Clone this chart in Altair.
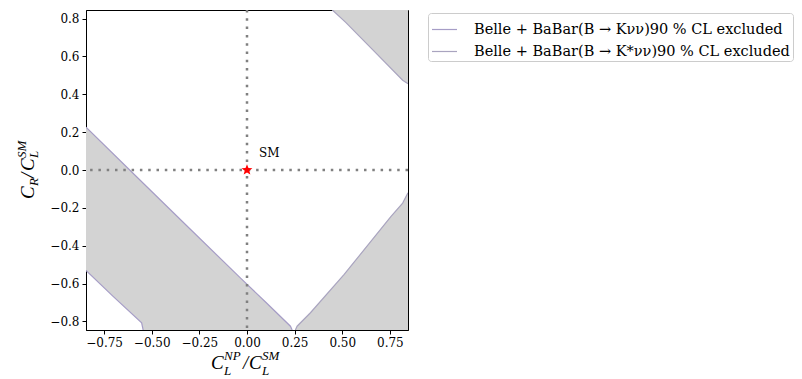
import math

import altair as alt
import pandas as pd

# Axis range shared by both couplings
LIM = 0.845

# Edges of the excluded regions (C_L^NP/C_L^SM, C_R/C_L^SM)
band_upper_x = [-0.845, -0.562, -0.30, -0.035, 0.10, 0.228, 0.237]
band_upper_y = [0.226, -0.053, -0.31, -0.57, -0.70, -0.825, -0.845]
band_lower_x = [-0.845, -0.70, -0.553, -0.545]
band_lower_y = [-0.53, -0.67, -0.807, -0.845]
top_right_x = [0.448, 0.518, 0.65, 0.817, 0.845]
top_right_y = [0.845, 0.78, 0.645, 0.474, 0.456]
bottom_right_x = [0.254, 0.263, 0.333, 0.509, 0.755, 0.817, 0.845]
bottom_right_y = [-0.845, -0.825, -0.754, -0.553, -0.246, -0.175, -0.12]

series_names = [
    "Belle + BaBar(B → Kνν)90 % CL excluded",
    "Belle + BaBar(B → K*νν)90 % CL excluded",
]
series_colors = ["#a69dc6", "#a9a4bf"]

x_ticks = [-0.75, -0.5, -0.25, 0.0, 0.25, 0.5, 0.75]
y_ticks = [-0.8, -0.6, -0.4, -0.2, 0.0, 0.2, 0.4, 0.6, 0.8]

sm_point = {"x": [0.0], "y": [0.0], "label": ["SM"]}


def rows(xs, ys, region, start=0):
    return [
        {"x": a, "y": b, "region": region, "i": start + k}
        for k, (a, b) in enumerate(zip(xs, ys))
    ]


# Closed outlines for the grey fills
polys = []
polys += rows(band_upper_x + band_lower_x[::-1], band_upper_y + band_lower_y[::-1], "band")
polys += rows(top_right_x + [LIM], top_right_y + [LIM], "top_right")
polys += rows(bottom_right_x + [LIM], bottom_right_y + [-LIM], "bottom_right")
poly_df = pd.DataFrame(polys)

# Boundary curves with their legend entry
edges = []
for xs, ys, name, s in [
    (band_upper_x, band_upper_y, "band_upper", 0),
    (band_lower_x, band_lower_y, "band_lower", 0),
    (top_right_x, top_right_y, "top_right", 1),
    (bottom_right_x, bottom_right_y, "bottom_right", 1),
]:
    for r in rows(xs, ys, name):
        r["series"] = series_names[s]
        edges.append(r)
edge_df = pd.DataFrame(edges)

xscale = alt.Scale(domain=[-LIM, LIM], nice=False, zero=False)
yscale = alt.Scale(domain=[-LIM, LIM], nice=False, zero=False)

tick_font = "DejaVu Serif"
axis_style = dict(title=None, grid=False, tickSize=4, labelFont=tick_font,
                  labelFontSize=12, labelPadding=3, labelOverlap=False,
                  labelFlush=False, labelColor="black", tickColor="black",
                  domainColor="black")
xaxis = alt.Axis(values=x_ticks, format=".2f", **axis_style)
yaxis = alt.Axis(values=y_ticks, format=".1f", **axis_style)


def X(field="x"):
    return alt.X(f"{field}:Q", scale=xscale, axis=xaxis)


def Y(field="y"):
    return alt.Y(f"{field}:Q", scale=yscale, axis=yaxis)


fills = alt.Chart(poly_df).mark_line(
    fill="#d3d3d3", strokeOpacity=0, clip=True
).encode(x=X(), y=Y(), detail="region:N", order="i:Q")

lines = alt.Chart(edge_df).mark_line(strokeWidth=1.2, clip=True).encode(
    x=X(),
    y=Y(),
    detail="region:N",
    order="i:Q",
    color=alt.Color(
        "series:N",
        scale=alt.Scale(domain=series_names, range=series_colors),
        legend=alt.Legend(
            title=None, orient="none", legendX=342, legendY=3,
            symbolType="stroke", symbolSize=625, symbolStrokeWidth=1.2,
            labelFont=tick_font, labelFontSize=14.5, labelLimit=600,
            labelColor="black", labelOffset=16, rowPadding=2,
            padding=3, strokeColor="#cccccc", fillColor="white", cornerRadius=3,
        ),
    ),
)

dots_v = alt.Chart(pd.DataFrame({"x": [0.0]})).mark_rule(
    color="#808080", strokeWidth=2.5, strokeDash=[2.5, 5.8]
).encode(x=X())
dots_h = alt.Chart(pd.DataFrame({"y": [0.0]})).mark_rule(
    color="#808080", strokeWidth=2.5, strokeDash=[2.5, 5.8]
).encode(y=Y())

# Five-pointed star outline in unit coordinates
pts = []
for k in range(10):
    r = 1.0 if k % 2 == 0 else 0.42
    a = -math.pi / 2 + k * math.pi / 5
    pts.append(f"{r * math.cos(a):.3f},{r * math.sin(a):.3f}")
star_path = "M" + " L".join(pts) + " Z"

sm_df = pd.DataFrame(sm_point)
star = alt.Chart(sm_df).mark_point(
    shape=star_path, filled=True, color="#ff0000", size=130, opacity=1
).encode(x=X(), y=Y())
sm_text = alt.Chart(sm_df).mark_text(
    align="left", baseline="middle", dx=12, dy=-17,
    font=tick_font, fontSize=12, color="black"
).encode(x=X(), y=Y(), text="label:N")

# Axis titles set as italic pieces with sub/superscripts
OX, OY = 86, 10
one = alt.Data(values=[{}])


def piece(txt, px, py, size, angle=0):
    return alt.Chart(one).mark_text(
        text=txt, font="Liberation Serif", fontStyle="italic", fontSize=size,
        align="left", baseline="alphabetic", angle=angle, color="black",
    ).encode(x=alt.value(px - OX), y=alt.value(py - OY))


BIG, SMALL = 19, 13
xtitle = [
    piece("C", 211, 369, BIG),
    piece("NP", 224, 360, SMALL),
    piece("L", 224, 375, SMALL),
    piece("/", 243, 369, BIG),
    piece("C", 249, 369, BIG),
    piece("SM", 262, 360, SMALL),
    piece("L", 262, 375, SMALL),
]
ytitle = [
    piece("C", 34, 199, BIG, 270),
    piece("R", 38, 186, SMALL, 270),
    piece("/", 34, 178, BIG, 270),
    piece("C", 34, 171, BIG, 270),
    piece("SM", 26, 158, SMALL, 270),
    piece("L", 38, 158, SMALL, 270),
]

chart = alt.layer(
    fills, lines, dots_v, dots_h, star, sm_text, *xtitle, *ytitle
).properties(
    width=322,
    height=320,
    padding={"left": OX, "top": OY, "right": 394, "bottom": 49},
    autosize=alt.AutoSizeParams(type="none"),
    background="white",
).configure_view(stroke="black", strokeWidth=1)

chart.save("out.html", embed_options={"renderer": "svg", "actions": False})
